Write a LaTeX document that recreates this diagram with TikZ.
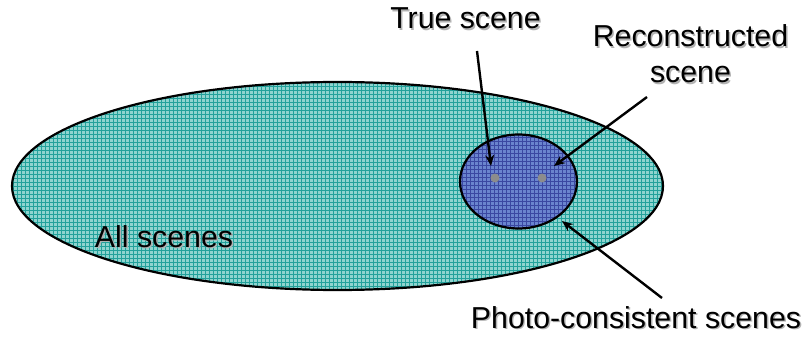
\documentclass[tikz,border=0pt]{standalone}
\usepackage{fontspec}
\setmainfont{Liberation Sans}
\usetikzlibrary{shapes.geometric,arrows.meta}
\definecolor{tealbg}{HTML}{8FD4CF}
\definecolor{tealln}{HTML}{22A19B}
\definecolor{bluebg}{HTML}{6A84CE}
\definecolor{blueln}{HTML}{3A48A2}
\definecolor{dotgray}{HTML}{8C8C8C}
\newcommand\shd[1]{\makebox[0pt][l]{\raisebox{-1.5pt}{\kern1.5pt\textcolor{black!30}{#1}}}#1}
\begin{document}
\begin{tikzpicture}[x=1pt,y=-1pt,
  lbl/.style={font=\fontsize{30.3}{36}\selectfont, inner sep=0pt, anchor=base},
  setbox/.style={ellipse, draw=black, line width=2.2pt, inner sep=0pt},
  ptr/.style={line width=2.4pt, -{Stealth[length=11pt,width=9pt]}},
  dot/.style={circle, fill=dotgray, minimum size=9pt, inner sep=0pt}]
\useasboundingbox (0,0) rectangle (807,337);
\node[setbox, fill=tealbg, minimum width=651pt, minimum height=208pt,
  path picture={\draw[tealln, line width=0.5pt, step=4pt] (path picture bounding box.south west) grid (path picture bounding box.north east);}]
  (all) at (337.5,186) {};
\node[setbox, fill=bluebg, minimum width=117pt, minimum height=94pt,
  path picture={\draw[blueln, line width=0.5pt, step=4pt] (path picture bounding box.south west) grid (path picture bounding box.north east);}]
  (photo) at (518.5,181.5) {};
\node[dot] (truedot) at (495,178) {};
\node[dot] (recdot) at (542,178) {};
\node[lbl] (truelbl) at (465.5,29) {\shd{True scene}};
\node[lbl, align=center] (reclbl) at (690.5,83) {\shd{Reconstructed}\\\shd{scene}};
\node[lbl] (alllbl) at (164,247) {\shd{All scenes}};
\node[lbl] (photolbl) at (636,328) {\shd{Photo-consistent scenes}};
\coordinate (truestart) at (477,51);
\coordinate (truetip) at (491,166);
\coordinate (recstart) at (647,97);
\coordinate (rectip) at (554,166);
\coordinate (photostart) at (662,298);
\coordinate (phototip) at (562,221);
\draw[ptr] (truestart) -- (truetip);
\draw[ptr] (recstart) -- (rectip);
\draw[ptr] (photostart) -- (phototip);
\end{tikzpicture}
\end{document}
